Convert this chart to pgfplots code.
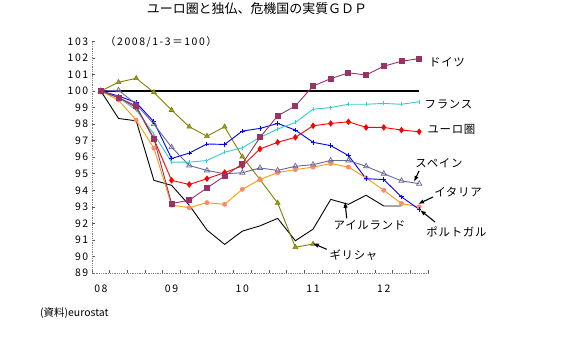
\documentclass[border=0pt]{standalone}
\usepackage{fontspec}
\setmainfont{Noto Sans CJK JP}
\newfontfamily\spaced[LetterSpace=15]{Noto Sans CJK JP}
\newfontfamily\lspaced[LetterSpace=6]{Noto Sans CJK JP}
\usepackage{pgfplots}
\pgfplotsset{compat=1.18}
\usetikzlibrary{arrows.meta}
\definecolor{deC}{HTML}{993366}
\definecolor{frC}{HTML}{33CCCC}
\definecolor{eaC}{HTML}{FF0000}
\definecolor{esC}{HTML}{666699}
\definecolor{itC}{HTML}{FF9900}
\definecolor{itF}{HTML}{FF8C69}
\definecolor{ptC}{HTML}{0000FF}
\definecolor{grC}{HTML}{808000}
\definecolor{grF}{HTML}{999933}
\newcommand\lbl{\lspaced\fontsize{11.5}{13}\selectfont}
\begin{document}
\begin{tikzpicture}
\path[use as bounding box] (0,0) rectangle (565bp,352bp);
\begin{axis}[
  at={(92bp,79bp)}, anchor=south west,
  scale only axis, width=336bp, height=231.6bp,
  xmin=-0.5, xmax=18.5, ymin=89, ymax=103,
  axis x line=bottom, axis y line=left,
  axis line style={-, gray, densely dotted, line width=0.8bp},
  x axis line style={-}, y axis line style={-},
  xtick={0,4,8,12,16}, xticklabels={08,09,10,11,12},
  minor xtick={-0.5,0.5,...,18.5},
  ytick={89,...,103},
  tick align=inside,
  major tick length=3bp, minor tick length=3bp,
  major x tick style={draw=none},
  tick style={gray!70!black, line width=0.6bp, solid},
  /pgf/number format/assume math mode=true,
  tick label style={font=\spaced\fontsize{10.5}{12}\selectfont},
  xticklabel style={yshift=-8bp},
  clip=false,
  line width=0.9bp,
]
% 100 line
\addplot[black, line width=1.4bp, no marks] coordinates {(0,100) (18,100)};
% Ireland
\addplot[black, no marks] coordinates {
(0,100) (1,98.34) (2,98.2) (3,94.6) (4,94.3) (5,93.1) (6,91.6) (7,90.73) (8,91.53)
(9,91.85) (10,92.3) (11,90.95) (12,91.65) (13,93.45) (14,93.15) (15,93.7) (16,93.05) (17,93.05)};
% Greece
\addplot[grC, mark=triangle*, mark size=2.8bp, mark options={fill=grF, draw=grC, line width=0.6bp}] coordinates {
(0,100) (1,100.53) (2,100.77) (3,99.92) (4,98.85) (5,97.84) (6,97.27) (7,97.84) (8,96.03)
(9,94.65) (10,93.23) (11,90.56) (12,90.75)};
% Italy
\addplot[itC, mark=*, mark size=2bp, mark options={fill=itF, draw=itF}] coordinates {
(0,100) (1,99.45) (2,98.24) (3,96.55) (4,93.1) (5,92.95) (6,93.25) (7,93.15) (8,94.06)
(9,94.65) (10,95.07) (11,95.25) (12,95.4) (13,95.62) (14,95.4) (15,94.75) (16,94.0) (17,93.2) (18,93.0)};
% Portugal
\addplot[ptC, mark=+, mark size=2.3bp, mark options={line width=0.9bp}] coordinates {
(0,100) (1,99.7) (2,99.3) (3,98.14) (4,95.92) (5,96.25) (6,96.8) (7,96.77) (8,97.58)
(9,97.74) (10,98.04) (11,97.64) (12,96.9) (13,96.7) (14,96.1) (15,94.7) (16,94.65) (17,93.6) (18,92.85)};
% Spain
\addplot[esC, mark=triangle, mark size=3bp, mark options={fill=white, line width=0.7bp}] coordinates {
(0,100) (1,100.05) (2,99.2) (3,98.0) (4,96.6) (5,95.5) (6,95.2) (7,95.0) (8,95.06)
(9,95.35) (10,95.2) (11,95.45) (12,95.55) (13,95.8) (14,95.8) (15,95.45) (16,95.0) (17,94.57) (18,94.4)};
% Euro area
\addplot[eaC, mark=diamond*, mark size=2.6bp] coordinates {
(0,100) (1,99.6) (2,99.0) (3,97.1) (4,94.6) (5,94.35) (6,94.7) (7,95.07) (8,95.47)
(9,96.5) (10,96.9) (11,97.2) (12,97.9) (13,98.04) (14,98.14) (15,97.8) (16,97.8) (17,97.64) (18,97.54)};
% France
\addplot[frC, mark=|, mark size=2bp, mark options={line width=1bp}] coordinates {
(0,100) (1,99.6) (2,98.85) (3,97.4) (4,95.7) (5,95.7) (6,95.8) (7,96.3) (8,96.57)
(9,97.2) (10,97.7) (11,98.1) (12,98.9) (13,99.0) (14,99.2) (15,99.2) (16,99.25) (17,99.2) (18,99.35)};
% Germany
\addplot[deC, mark=square*, mark size=2.5bp] coordinates {
(0,100) (1,99.6) (2,99.1) (3,97.13) (4,93.2) (5,93.4) (6,94.14) (7,94.86) (8,95.6)
(9,97.2) (10,98.5) (11,99.1) (12,100.3) (13,100.75) (14,101.1) (15,100.97) (16,101.5) (17,101.8) (18,101.96)};
\end{axis}
% titles
\node[font=\fontsize{13}{15}\selectfont] at (257bp,343bp) {ユーロ圏と独仏、危機国の実質ＧＤＰ};
\node[font=\spaced\fontsize{10.5}{12}\selectfont] at (161bp,310bp) {（2008/1-3＝100）};
\node[font=\fontsize{10.5}{12}\selectfont, anchor=west, inner sep=0pt] at (40bp,39bp) {(資料)eurostat};
% series labels
\node[font=\lbl] at (447bp,290bp) {ドイツ};
\node[font=\lbl] at (448.5bp,248bp) {フランス};
\node[font=\lbl] at (451.5bp,223bp) {ユーロ圏};
\node[font=\lbl] at (439bp,189bp) {スペイン};
\node[font=\lbl] at (458bp,160bp) {イタリア};
\node[font=\lbl] at (456.5bp,120bp) {ポルトガル};
\node[font=\lbl] at (369.5bp,127bp) {アイルランド};
\node[font=\lbl] at (353.5bp,97bp) {ギリシャ};
% arrows
\begin{scope}[line width=1.1bp, -{Latex[length=6bp,width=4.5bp]}]
\draw (419bp,181bp) -- (414bp,170bp);
\draw (433bp,155bp) -- (418bp,148bp);
\draw (435bp,130bp) -- (420bp,142bp);
\draw (346.7bp,133.7bp) -- (345bp,150.3bp);
\draw (326.7bp,102.7bp) -- (312.7bp,108.7bp);
\end{scope}
\end{tikzpicture}
\end{document}
